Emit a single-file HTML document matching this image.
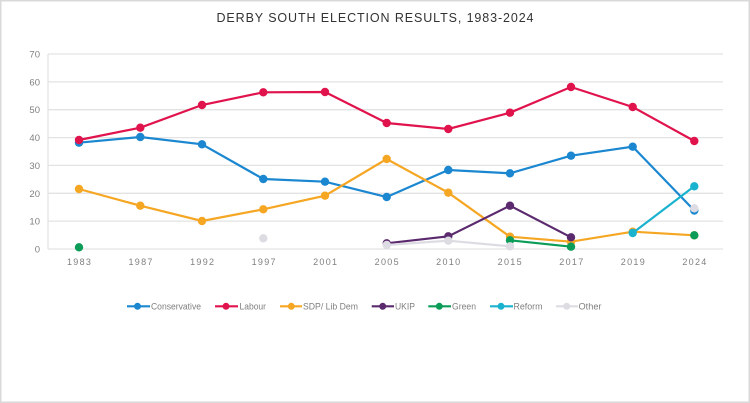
<!DOCTYPE html>
<html><head><meta charset="utf-8">
<style>
html,body{margin:0;padding:0;background:#fff;}
svg{display:block;}
text{font-family:"Liberation Sans",Arial,sans-serif;}
</style></head>
<body>
<svg width="750" height="403" viewBox="0 0 750 403" xmlns="http://www.w3.org/2000/svg">
<rect x="0.75" y="0.75" width="748.5" height="401.5" fill="#fff" stroke="#d9d9d9" stroke-width="1.5"/>
<text x="375" y="22" text-anchor="middle" font-size="12.5" fill="#333" textLength="317" lengthAdjust="spacing">DERBY SOUTH ELECTION RESULTS, 1983-2024</text>
<g stroke="#e3e3e3" stroke-width="1.3">
<line x1="48" y1="54" x2="723" y2="54"/>
<line x1="48" y1="81.9" x2="723" y2="81.9"/>
<line x1="48" y1="109.7" x2="723" y2="109.7"/>
<line x1="48" y1="137.6" x2="723" y2="137.6"/>
<line x1="48" y1="165.4" x2="723" y2="165.4"/>
<line x1="48" y1="193.3" x2="723" y2="193.3"/>
<line x1="48" y1="221.1" x2="723" y2="221.1"/>
<line x1="48" y1="249" x2="723" y2="249"/>
<line x1="48" y1="54" x2="48" y2="249"/>
</g>
<g font-size="9.5" fill="#808080" text-anchor="end">
<text x="40" y="57.5">70</text>
<text x="40" y="85.4">60</text>
<text x="40" y="113.2">50</text>
<text x="40" y="141.1">40</text>
<text x="40" y="168.9">30</text>
<text x="40" y="196.8">20</text>
<text x="40" y="224.6">10</text>
<text x="40" y="252.5">0</text>
</g>
<g font-size="9" fill="#808080" text-anchor="middle" letter-spacing="1.3">
<text x="79.6" y="265">1983</text>
<text x="141.1" y="265">1987</text>
<text x="202.7" y="265">1992</text>
<text x="264.2" y="265">1997</text>
<text x="325.7" y="265">2001</text>
<text x="387.3" y="265">2005</text>
<text x="448.8" y="265">2010</text>
<text x="510.3" y="265">2015</text>
<text x="571.9" y="265">2017</text>
<text x="633.4" y="265">2019</text>
<text x="695" y="265">2024</text>
</g>
<!-- Conservative -->
<g stroke="#1a87d0" fill="#1a87d0">
<polyline fill="none" stroke-width="2.2" points="79,142.7 140.3,137 202,144.3 263.3,179 325,181.7 386.7,197 448.3,170 510,173.3 571,155.7 632.7,146.7 694.3,210.5"/>
<g stroke="none">
<circle cx="79" cy="142.7" r="4.2"/><circle cx="140.3" cy="137" r="4.2"/><circle cx="202" cy="144.3" r="4.2"/><circle cx="263.3" cy="179" r="4.2"/><circle cx="325" cy="181.7" r="4.2"/><circle cx="386.7" cy="197" r="4.2"/><circle cx="448.3" cy="170" r="4.2"/><circle cx="510" cy="173.3" r="4.2"/><circle cx="571" cy="155.7" r="4.2"/><circle cx="632.7" cy="146.7" r="4.2"/><circle cx="694.3" cy="210.5" r="4.2"/>
</g></g>
<!-- Labour -->
<g stroke="#e0134d" fill="#e0134d">
<polyline fill="none" stroke-width="2.2" points="79,140 140.3,127.7 202,105 263.3,92.3 325,92 386.7,123 448.3,129 510,112.7 571,87 632.7,107 694.3,141"/>
<g stroke="none">
<circle cx="79" cy="140" r="4.2"/><circle cx="140.3" cy="127.7" r="4.2"/><circle cx="202" cy="105" r="4.2"/><circle cx="263.3" cy="92.3" r="4.2"/><circle cx="325" cy="92" r="4.2"/><circle cx="386.7" cy="123" r="4.2"/><circle cx="448.3" cy="129" r="4.2"/><circle cx="510" cy="112.7" r="4.2"/><circle cx="571" cy="87" r="4.2"/><circle cx="632.7" cy="107" r="4.2"/><circle cx="694.3" cy="141" r="4.2"/>
</g></g>
<!-- SDP / Lib Dem -->
<g stroke="#f5a623" fill="#f5a623">
<polyline fill="none" stroke-width="2.2" points="79,189 140.3,205.7 202,221 263.3,209.3 325,195.7 386.7,159 448.3,192.7 510,236.7 571,241.7 632.7,231.7 694.3,235.3"/>
<g stroke="none">
<circle cx="79" cy="189" r="4.2"/><circle cx="140.3" cy="205.7" r="4.2"/><circle cx="202" cy="221" r="4.2"/><circle cx="263.3" cy="209.3" r="4.2"/><circle cx="325" cy="195.7" r="4.2"/><circle cx="386.7" cy="159" r="4.2"/><circle cx="448.3" cy="192.7" r="4.2"/><circle cx="510" cy="236.7" r="4.2"/><circle cx="571" cy="241.7" r="4.2"/><circle cx="632.7" cy="231.7" r="4.2"/><circle cx="694.3" cy="235.3" r="4.2"/>
</g></g>
<!-- UKIP -->
<g stroke="#5b2a6e" fill="#5b2a6e">
<polyline fill="none" stroke-width="2.2" points="386.7,243.3 448.3,236.3 510,205.7 571,237.3"/>
<g stroke="none">
<circle cx="386.7" cy="243.3" r="4.2"/><circle cx="448.3" cy="236.3" r="4.2"/><circle cx="510" cy="205.7" r="4.2"/><circle cx="571" cy="237.3" r="4.2"/>
</g></g>
<!-- Green -->
<g stroke="#0b9d58" fill="#0b9d58">
<polyline fill="none" stroke-width="2.2" points="510,240.3 571,246.7"/>
<g stroke="none">
<circle cx="79" cy="247.3" r="4.2"/><circle cx="510" cy="240.3" r="4.2"/><circle cx="571" cy="246.7" r="4.2"/><circle cx="694.3" cy="235.3" r="4.2"/>
</g></g>
<!-- Reform -->
<g stroke="#1ab3cf" fill="#1ab3cf">
<polyline fill="none" stroke-width="2.2" points="632.7,233 694.3,186.3"/>
<g stroke="none">
<circle cx="632.7" cy="233" r="4.2"/><circle cx="694.3" cy="186.3" r="4.2"/>
</g></g>
<!-- Other -->
<g stroke="#dcdce2" fill="#dcdce2">
<polyline fill="none" stroke-width="2.2" points="386.7,245 448.3,240.7 510,246.3"/>
<g stroke="none">
<circle cx="263.3" cy="238.3" r="4.2"/><circle cx="386.7" cy="245" r="4.2"/><circle cx="448.3" cy="240.7" r="4.2"/><circle cx="510" cy="246.3" r="4.2"/><circle cx="694.3" cy="208.3" r="4.2"/>
</g></g>
<!-- Legend -->
<g font-size="9" fill="#7f7f7f">
<line x1="127" y1="306.3" x2="150" y2="306.3" stroke="#1a87d0" stroke-width="2.2"/><circle cx="137.5" cy="306.3" r="3.5" fill="#1a87d0"/>
<text x="151" y="309.5" textLength="50" lengthAdjust="spacingAndGlyphs">Conservative</text>
<line x1="215" y1="306.3" x2="238" y2="306.3" stroke="#e0134d" stroke-width="2.2"/><circle cx="226" cy="306.3" r="3.5" fill="#e0134d"/>
<text x="239.5" y="309.5" textLength="26.5" lengthAdjust="spacingAndGlyphs">Labour</text>
<line x1="280" y1="306.3" x2="302" y2="306.3" stroke="#f5a623" stroke-width="2.2"/><circle cx="291.3" cy="306.3" r="3.5" fill="#f5a623"/>
<text x="303" y="309.5" textLength="55" lengthAdjust="spacingAndGlyphs">SDP/ Lib Dem</text>
<line x1="371.7" y1="306.3" x2="394" y2="306.3" stroke="#5b2a6e" stroke-width="2.2"/><circle cx="382.7" cy="306.3" r="3.5" fill="#5b2a6e"/>
<text x="395" y="309.5" textLength="20" lengthAdjust="spacingAndGlyphs">UKIP</text>
<line x1="428.3" y1="306.3" x2="451" y2="306.3" stroke="#0b9d58" stroke-width="2.2"/><circle cx="439.3" cy="306.3" r="3.5" fill="#0b9d58"/>
<text x="452" y="309.5" textLength="24" lengthAdjust="spacingAndGlyphs">Green</text>
<line x1="490" y1="306.3" x2="513" y2="306.3" stroke="#1ab3cf" stroke-width="2.2"/><circle cx="501" cy="306.3" r="3.5" fill="#1ab3cf"/>
<text x="513.5" y="309.5" textLength="29" lengthAdjust="spacingAndGlyphs">Reform</text>
<line x1="556" y1="306.3" x2="578" y2="306.3" stroke="#dcdce2" stroke-width="2.2"/><circle cx="566.7" cy="306.3" r="3.5" fill="#dcdce2"/>
<text x="578.5" y="309.5" textLength="23" lengthAdjust="spacingAndGlyphs">Other</text>
</g>
</svg>
</body></html>
